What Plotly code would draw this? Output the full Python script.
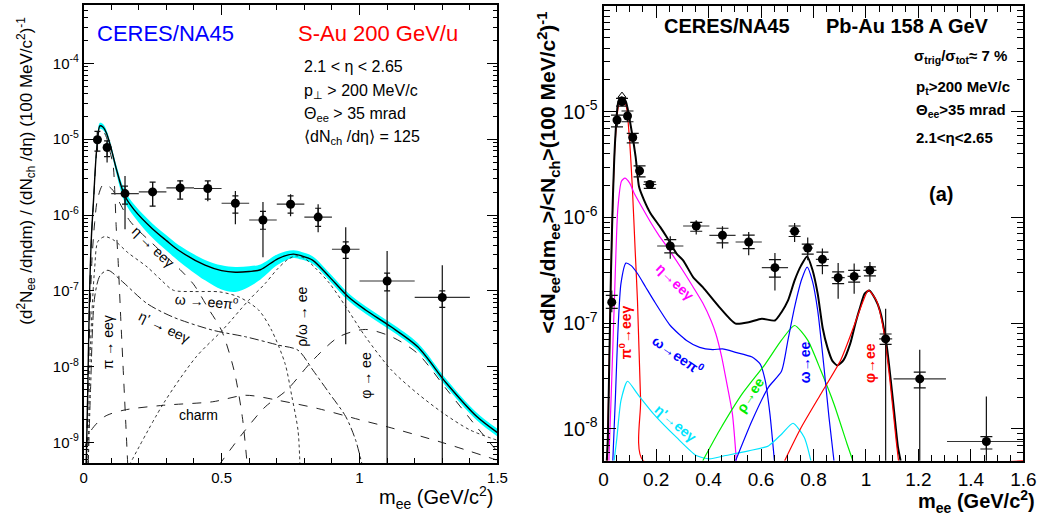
import numpy as np
import plotly.graph_objects as go

W, H = 1057, 515
FONT = "Liberation Sans, Arial, Helvetica, sans-serif"

# ---------------- Left panel: S-Au 200 GeV/u ----------------
L_m = [0.05, 0.085, 0.15, 0.25, 0.35, 0.45, 0.55, 0.65, 0.75, 0.85, 0.95, 1.10, 1.30]
L_dm = [0, 0, 0.05, 0.05, 0.05, 0.05, 0.05, 0.05, 0.05, 0.05, 0.05, 0.1, 0.1]
L_y = [9.85e-6, 7.77e-6, 1.92e-6, 2.02e-6, 2.28e-6, 2.24e-6, 1.43e-6, 8.6e-7, 1.39e-6, 9.4e-7, 3.54e-7, 1.35e-7, 8.2e-8]
L_stat_hi = [1.27e-5, 9.5e-6, 3.28e-6, 2.71e-6, 2.88e-6, 2.82e-6, 2.08e-6, 1.49e-6, 1.88e-6, 1.39e-6, 6.9e-7, 3.36e-7, 2.18e-7]
L_stat_lo = [6.95e-6, 4.93e-6, 6.5e-7, 1.31e-6, 1.67e-6, 1.52e-6, 7.56e-7, 2.78e-7, 9.64e-7, 5.93e-7, 1.97e-8, 1e-11, 1e-11]
L_sys_hi = [1.27e-5, 9.5e-6, 2.40e-6, 2.71e-6, 2.82e-6, 2.82e-6, 1.79e-6, 1.12e-6, 1.79e-6, 1.23e-6, 4.42e-7, 1.71e-7, 9.97e-8]
L_sys_lo = [6.95e-6, 5.9e-6, 1.39e-6, 1.31e-6, 1.62e-6, 1.62e-6, 1.06e-6, 6.5e-7, 1.06e-6, 7.11e-7, 2.69e-7, 9.97e-8, 6.07e-8]

L_tot_m = [0.008, 0.015, 0.021, 0.028, 0.036, 0.047, 0.059, 0.07, 0.083, 0.1, 0.119, 0.148, 0.184, 0.249, 0.30,
           0.344, 0.44, 0.50, 0.55, 0.60, 0.641, 0.705, 0.76, 0.79, 0.831, 0.891, 0.96, 1.022, 1.114, 1.211,
           1.316, 1.425, 1.5]
L_tot_y = [3e-10, 5e-9, 7.6e-8, 5e-7, 1.6e-6, 7.2e-6, 1.5e-5, 1.45e-5, 1.2e-5, 7.5e-6, 4.0e-6, 1.82e-6, 1.16e-6,
           6.6e-7, 4.6e-7, 3.43e-7, 2.18e-7, 1.85e-7, 1.76e-7, 1.8e-7, 1.9e-7, 2.67e-7, 3.05e-7, 2.9e-7, 2.53e-7,
           1.53e-7, 8.3e-8, 5.6e-8, 3.36e-8, 1.83e-8, 6.0e-9, 2.2e-9, 1.35e-9]
L_band_up = [0.04, 0.04, 0.04, 0.04, 0.04, 0.04, 0.04, 0.04, 0.04, 0.04, 0.05, 0.07, 0.07, 0.07, 0.07, 0.07, 0.07,
             0.07, 0.07, 0.07, 0.07, 0.06, 0.05, 0.05, 0.05, 0.05, 0.05, 0.05, 0.05, 0.05, 0.05, 0.05, 0.05]
L_band_dn = [0.04, 0.04, 0.04, 0.04, 0.04, 0.04, 0.04, 0.04, 0.04, 0.04, 0.06, 0.08, 0.09, 0.12, 0.13, 0.14, 0.2,
             0.25, 0.26, 0.2, 0.13, 0.08, 0.05, 0.05, 0.05, 0.05, 0.05, 0.05, 0.05, 0.05, 0.05, 0.05, 0.05]

L_pi_m = [0.008, 0.015, 0.021, 0.028, 0.036, 0.047, 0.059, 0.07, 0.083, 0.095, 0.107, 0.113, 0.118, 0.125, 0.135,
          0.145, 0.155, 0.165]
L_pi_y = [3e-10, 5e-9, 7e-8, 4.8e-7, 1.5e-6, 6.8e-6, 1.35e-5, 1.3e-5, 1.05e-5, 7e-6, 4.5e-6, 2.0e-6, 7e-7, 2.5e-7,
          4e-8, 7e-9, 1.2e-9, 2e-10]
L_eta_m = [0.01, 0.02, 0.03, 0.04, 0.05, 0.07, 0.09, 0.107, 0.135, 0.166, 0.2, 0.25, 0.30, 0.35, 0.40, 0.45, 0.50,
           0.545, 0.575, 0.593]
L_eta_y = [3e-10, 2e-8, 2.5e-7, 8e-7, 1.6e-6, 2.5e-6, 2.4e-6, 2.1e-6, 1.35e-6, 8.5e-7, 6.2e-7, 4.2e-7, 2.8e-7,
           1.9e-7, 1.2e-7, 6e-8, 3e-8, 9e-9, 2.2e-9, 5e-10]
L_omd_m = [0.015, 0.025, 0.04, 0.052, 0.077, 0.112, 0.16, 0.23, 0.28, 0.325, 0.4, 0.492, 0.563, 0.634, 0.681,
           0.73, 0.755, 0.777, 0.784]
L_omd_y = [3e-10, 2e-8, 2e-7, 4.5e-7, 5.2e-7, 4.6e-7, 3.2e-7, 2.07e-7, 1.4e-7, 1.02e-7, 9.8e-8, 9.7e-8, 8.3e-8,
           5.6e-8, 3.04e-8, 1.1e-8, 4e-9, 1.45e-9, 5e-10]
L_etap_m = [0.015, 0.025, 0.04, 0.06, 0.088, 0.135, 0.23, 0.325, 0.468, 0.587, 0.705, 0.777, 0.831, 0.89, 0.95,
            0.985, 1.01]
L_etap_y = [3e-10, 5e-9, 8.3e-8, 1.6e-7, 1.87e-7, 1.38e-7, 6.8e-8, 4.5e-8, 3.03e-8, 2.48e-8, 1.93e-8, 1.65e-8,
            9e-9, 4.5e-9, 2.2e-9, 1.1e-9, 5e-10]
L_rho_m = [0.165, 0.29, 0.408, 0.503, 0.598, 0.658, 0.70, 0.74, 0.77, 0.80, 0.84, 0.891, 0.95, 1.021, 1.116,
           1.211, 1.306, 1.401, 1.5]
L_rho_y = [5e-10, 3.3e-9, 1.35e-8, 3.03e-8, 7.5e-8, 1.25e-7, 1.9e-7, 2.6e-7, 2.9e-7, 2.7e-7, 2.0e-7, 1.26e-7,
           6.2e-8, 2.5e-8, 9e-9, 4.4e-9, 2.4e-9, 1.46e-9, 1.07e-9]
L_phi_m = [0.49, 0.575, 0.658, 0.736, 0.831, 0.926, 1.021, 1.116, 1.211, 1.318, 1.425, 1.496]
L_phi_y = [5e-10, 1.3e-9, 2.95e-9, 4.9e-9, 1.22e-8, 2.48e-8, 3.1e-8, 2.48e-8, 1.49e-8, 4.9e-9, 1.6e-9, 7.9e-10]
L_charm_m = [0.005, 0.028, 0.076, 0.147, 0.29, 0.468, 0.587, 0.705, 0.85, 1.0, 1.104, 1.3, 1.496]
L_charm_y = [8.8e-10, 1.46e-9, 2.2e-9, 2.68e-9, 3.1e-9, 3.45e-9, 4.2e-9, 3.6e-9, 2.8e-9, 2.0e-9, 1.6e-9, 1e-9, 5.9e-10]

# ---------------- Right panel: Pb-Au 158 A GeV ----------------
R_m = [0.031, 0.051, 0.070, 0.091, 0.111, 0.137, 0.176, 0.254, 0.353, 0.453, 0.553, 0.653, 0.728, 0.778, 0.834,
       0.894, 0.955, 1.015, 1.075, 1.205, 1.459]
R_dm = [0.006, 0.01, 0.01, 0.01, 0.01, 0.01, 0.025, 0.05, 0.05, 0.05, 0.05, 0.05, 0.02, 0.02, 0.025, 0.025, 0.025,
        0.025, 0.025, 0.1, 0.15]
R_y = [1.58e-7, 8.34e-6, 1.245e-5, 9.1e-6, 5.7e-6, 2.76e-6, 2.05e-6, 5.37e-7, 8.3e-7, 6.78e-7, 5.86e-7, 3.35e-7,
       7.4e-7, 5.14e-7, 4.02e-7, 2.69e-7, 2.77e-7, 3.16e-7, 7.1e-8, 2.97e-8, 7.6e-9]
R_stat_hi = [2.04e-7, 9.3e-6, 1.34e-5, 1.016e-5, 6.24e-6, 3.08e-6, 2.17e-6, 6.64e-7, 9.4e-7, 8.26e-7, 7.3e-7,
             4.62e-7, 8.87e-7, 6.45e-7, 5.07e-7, 3.71e-7, 3.66e-7, 3.79e-7, 1.37e-7, 5.6e-8, 2.02e-8]
R_stat_lo = [1.27e-7, 7.2e-6, 1.13e-5, 8.04e-6, 5.08e-6, 2.42e-6, 1.88e-6, 4.07e-7, 6.89e-7, 5.07e-7, 4.39e-7,
             2.04e-7, 5.86e-7, 3.93e-7, 2.9e-7, 1.7e-7, 1.9e-7, 2.45e-7, 1e-11, 1e-11, 1e-11]
R_sys_hi = [1.83e-7, 9.3e-6, 1.34e-5, 1.016e-5, 6.24e-6, 3.08e-6, 2.17e-6, 6.18e-7, 9.0e-7, 7.9e-7, 6.8e-7,
            3.99e-7, 8.3e-7, 5.6e-7, 4.7e-7, 3.05e-7, 3.16e-7, 3.4e-7, 7.9e-8, 3.44e-8, 8.43e-9]
R_sys_lo = [1.38e-7, 7.2e-6, 1.13e-5, 8.04e-6, 5.08e-6, 2.42e-6, 1.88e-6, 4.62e-7, 7.4e-7, 5.75e-7, 5.07e-7,
            2.73e-7, 6.6e-7, 4.5e-7, 3.5e-7, 2.37e-7, 2.44e-7, 2.8e-7, 6.3e-8, 2.44e-8, 6.45e-9]
R_open_m = [0.070]
R_open_y = [1.42e-5]

R_tot_m = [0.012, 0.016, 0.022, 0.028, 0.035, 0.044, 0.056, 0.069, 0.085, 0.104, 0.122, 0.135, 0.154, 0.179,
           0.216, 0.241, 0.278, 0.303, 0.341, 0.378, 0.441, 0.503, 0.553, 0.603, 0.653, 0.678, 0.703, 0.728,
           0.753, 0.776, 0.796, 0.816, 0.835, 0.853, 0.872, 0.891, 0.915, 0.94, 0.96, 0.978, 0.995, 1.013,
           1.035, 1.053, 1.078, 1.103, 1.122, 1.132]
R_tot_y = [5e-9, 8e-9, 5e-8, 3e-7, 1.45e-6, 5.4e-6, 1.24e-5, 1.37e-5, 1.24e-5, 7.2e-6, 3.74e-6, 1.95e-6, 1.46e-6,
           1.09e-6, 8.1e-7, 6.5e-7, 4.55e-7, 3.93e-7, 2.73e-7, 2.19e-7, 1.42e-7, 9.9e-8, 1.02e-7, 1.1e-7,
           1.06e-7, 1.27e-7, 1.64e-7, 2.54e-7, 3.52e-7, 4.28e-7, 3.2e-7, 1.9e-7, 9e-8, 5.9e-8, 4.4e-8, 3.98e-8,
           4.5e-8, 6.4e-8, 1.0e-7, 1.42e-7, 1.9e-7, 2.04e-7, 1.7e-7, 1.32e-7, 6.4e-8, 1.85e-8, 6.7e-9, 5e-9]
R_pi0_m = [0.014, 0.022, 0.028, 0.035, 0.044, 0.06, 0.075, 0.085, 0.097, 0.11, 0.12, 0.129, 0.141, 0.151, 1.6]
R_pi0_y = [5e-9, 5e-8, 3e-7, 1.4e-6, 5.2e-6, 1.2e-5, 1.2e-5, 1.15e-5, 6.2e-6, 1.8e-6, 5e-7, 1.64e-7, 1.85e-8,
           5e-9, 5e-9]
R_eta_m = [0.02, 0.03, 0.041, 0.054, 0.068, 0.081, 0.1, 0.116, 0.15, 0.179, 0.21, 0.241, 0.3, 0.341, 0.378, 0.41,
           0.428, 0.45, 0.466, 0.491, 0.506]
R_eta_y = [5e-9, 2.5e-8, 1.64e-7, 1.2e-6, 2.2e-6, 2.35e-6, 2.1e-6, 1.7e-6, 1.2e-6, 9.0e-7, 6.8e-7, 5.3e-7, 3.2e-7,
           2.2e-7, 1.55e-7, 1.05e-7, 7.9e-8, 4.8e-8, 3.0e-8, 1.38e-8, 5e-9]
R_omd_m = [0.035, 0.045, 0.054, 0.066, 0.085, 0.105, 0.129, 0.16, 0.191, 0.254, 0.316, 0.366, 0.416, 0.453, 0.503,
           0.566, 0.597, 0.616, 0.634, 0.651]
R_omd_y = [5e-9, 2e-8, 7.9e-8, 2.37e-7, 3.7e-7, 3.5e-7, 2.95e-7, 2.2e-7, 1.64e-7, 9.5e-8, 6.86e-8, 5.9e-8,
           5.63e-8, 5.7e-8, 5.3e-8, 4.78e-8, 4.1e-8, 2.86e-8, 1.38e-8, 5e-9]
R_etap_m = [0.04, 0.05, 0.066, 0.091, 0.129, 0.191, 0.278, 0.353, 0.403, 0.466, 0.553, 0.628, 0.68, 0.722, 0.765,
            0.79]
R_etap_y = [5e-9, 8e-9, 1.85e-8, 2.82e-8, 2.14e-8, 1.38e-8, 8.3e-9, 5.6e-9, 5.2e-9, 5.6e-9, 6.2e-9, 6.9e-9, 9e-9,
            1.13e-8, 8.3e-9, 5e-9]
R_rho_m = [0.378, 0.441, 0.528, 0.616, 0.678, 0.728, 0.778, 0.828, 0.878, 0.928, 0.95]
R_rho_y = [5e-9, 9.6e-9, 2.14e-8, 4.1e-8, 6.9e-8, 9.5e-8, 6.9e-8, 3.56e-8, 1.72e-8, 7.2e-9, 5e-9]
R_omg_m = [0.503, 0.566, 0.628, 0.678, 0.703, 0.728, 0.755, 0.776, 0.796, 0.816, 0.84, 0.859, 0.878]
R_omg_y = [5e-9, 1.2e-8, 2.47e-8, 3.5e-8, 7e-8, 1.42e-7, 2.6e-7, 3.39e-7, 2.5e-7, 1.32e-7, 3.83e-8, 1.29e-8, 5e-9]
R_phi_m = [0.69, 0.753, 0.828, 0.903, 0.953, 0.99, 1.009, 1.04, 1.065, 1.09, 1.115, 1.124]
R_phi_y = [5e-9, 1.03e-8, 2.14e-8, 4.43e-8, 9.2e-8, 1.64e-7, 2.04e-7, 1.64e-7, 9.2e-8, 3.08e-8, 7.8e-9, 5e-9]


def px(x):
    return x / W


def py(y):
    return 1 - y / H


fig = go.Figure()


def curve(xs, ys, color, width=1.0, dash="solid", xa="x", ya="y", smooth=0.8):
    fig.add_trace(go.Scatter(x=xs, y=ys, mode="lines", xaxis=xa, yaxis=ya,
                             line=dict(color=color, width=width, dash=dash, shape="spline", smoothing=smooth),
                             showlegend=False, hoverinfo="skip"))


# ---- left band ----
tot = np.array(L_tot_y)
band_lo = tot * 10 ** (-np.array(L_band_dn))
band_hi = tot * 10 ** (np.array(L_band_up))
fig.add_trace(go.Scatter(x=L_tot_m, y=band_lo, mode="lines", line=dict(width=0, color="#00ffff", shape="spline"),
                         showlegend=False, hoverinfo="skip"))
fig.add_trace(go.Scatter(x=L_tot_m, y=band_hi, mode="lines", line=dict(width=0, color="#00ffff", shape="spline"),
                         fill="tonexty", fillcolor="#00ffff", showlegend=False, hoverinfo="skip"))

curve(L_pi_m, L_pi_y, "#222222", 1.0, "dash")
curve(L_eta_m, L_eta_y, "#222222", 1.0, "dash")
curve(L_omd_m, L_omd_y, "#333333", 1.0, "dot")
curve(L_etap_m, L_etap_y, "#222222", 1.0, "dashdot")
curve(L_rho_m, L_rho_y, "#333333", 1.0, "dot")
curve(L_phi_m, L_phi_y, "#222222", 1.0, "dash")
curve(L_charm_m, L_charm_y, "#222222", 1.0, "dash")
curve(L_tot_m, L_tot_y, "black", 1.4, "solid")


def points(m, dm, y, shi, slo, yhi, ylo, xa, ya, cap):
    y = np.array(y)
    fig.add_trace(go.Scatter(x=m, y=y, mode="markers", xaxis=xa, yaxis=ya,
                             marker=dict(size=1, color="rgba(0,0,0,0)"),
                             error_y=dict(type="data", symmetric=False, array=np.array(yhi) - y,
                                          arrayminus=y - np.array(ylo), color="#111111", thickness=1.2, width=cap),
                             showlegend=False, hoverinfo="skip"))
    fig.add_trace(go.Scatter(x=m, y=y, mode="markers", xaxis=xa, yaxis=ya,
                             marker=dict(size=9, color="black"),
                             error_x=dict(type="data", array=dm, color="#333333", thickness=1.2, width=0),
                             error_y=dict(type="data", symmetric=False, array=np.array(shi) - y,
                                          arrayminus=y - np.array(slo), color="#111111", thickness=1.2, width=0),
                             showlegend=False, hoverinfo="skip"))


points(L_m, L_dm, L_y, L_stat_hi, L_stat_lo, L_sys_hi, L_sys_lo, "x", "y", 3)

# ---- right panel curves ----
curve(R_pi0_m, R_pi0_y, "#ff0000", 1.2, xa="x2", ya="y2", smooth=0.6)
curve(R_eta_m, R_eta_y, "#ff00ff", 1.2, xa="x2", ya="y2", smooth=0.6)
curve(R_omd_m, R_omd_y, "#0000ff", 1.2, xa="x2", ya="y2", smooth=0.6)
curve(R_etap_m, R_etap_y, "#00e5ff", 1.2, xa="x2", ya="y2", smooth=0.6)
curve(R_rho_m, R_rho_y, "#00ee00", 1.2, xa="x2", ya="y2", smooth=0.6)
curve(R_omg_m, R_omg_y, "#0000ff", 1.2, xa="x2", ya="y2", smooth=0.6)
curve(R_tot_m, R_tot_y, "black", 2.0, xa="x2", ya="y2", smooth=0.6)
curve(R_phi_m, R_phi_y, "#ff0000", 1.2, xa="x2", ya="y2", smooth=0.6)

points(R_m, R_dm, R_y, R_stat_hi, R_stat_lo, R_sys_hi, R_sys_lo, "x2", "y2", 6)
fig.add_trace(go.Scatter(x=R_open_m, y=R_open_y, mode="markers", xaxis="x2", yaxis="y2",
                         marker=dict(size=7, symbol="triangle-up-open", color="black", line=dict(width=1)),
                         showlegend=False, hoverinfo="skip"))

# ---- axes ----
def log_ticks(lo, hi):
    return [10.0 ** e for e in range(lo, hi + 1)], ["10<sup>%d</sup>" % e for e in range(lo, hi + 1)]


def minor_log(lo, hi):
    return [k * 10.0 ** e for e in range(lo, hi) for k in range(2, 10)]


ltv, ltt = log_ticks(-9, -4)
rtv, rtt = log_ticks(-8, -4)

common = dict(showgrid=False, zeroline=False, showline=True, linecolor="black", ticks="inside",
              tickcolor="black", mirror="allticks")

fig.update_layout(
    width=W, height=H, margin=dict(l=0, r=0, t=0, b=0), paper_bgcolor="white", plot_bgcolor="white",
    font=dict(family=FONT, color="black"),
    xaxis=dict(domain=[px(80), px(501)], range=[0, 1.5], anchor="y", linewidth=1.5, ticklen=10,
               tickvals=[0, 0.5, 1, 1.5], ticktext=["0", "0.5", "1", "1.5"], tickfont=dict(size=15),
               minor=dict(tickmode="array", tickvals=[i / 10 for i in range(1, 15)], ticks="inside", ticklen=5,
                          tickcolor="black"), **common),
    yaxis=dict(domain=[py(463), py(5)], type="log", range=[-9.27, -3.23], anchor="x", linewidth=1.5, ticklen=11,
               tickvals=ltv, ticktext=ltt, tickfont=dict(size=15),
               minor=dict(tickmode="array", tickvals=minor_log(-10, -3), ticks="inside", ticklen=5,
                          tickcolor="black"), **common),
    xaxis2=dict(domain=[px(609), px(1036)], range=[0, 1.6], anchor="y2", linewidth=2, ticklen=12,
                tickvals=[0, 0.2, 0.4, 0.6, 0.8, 1, 1.2, 1.4, 1.6],
                ticktext=["0", "0.2", "0.4", "0.6", "0.8", "1", "1.2", "1.4", "1.6"], tickfont=dict(size=19),
                minor=dict(tickmode="array", tickvals=[i * 0.05 for i in range(1, 32)], ticks="inside", ticklen=6,
                           tickcolor="black"), **common),
    yaxis2=dict(domain=[py(460.7), py(6)], type="log", range=[np.log10(5e-9), -4], anchor="x2", linewidth=2,
                ticklen=12, tickvals=rtv, ticktext=rtt, tickfont=dict(size=20),
                minor=dict(tickmode="array", tickvals=minor_log(-9, -4), ticks="inside", ticklen=6,
                           tickcolor="black"), **common),
)

ann = []


def text(t, x, y, size, color="black", xanchor="center", yanchor="middle", angle=0, bold=False):
    if bold:
        t = "<b>" + t + "</b>"
    ann.append(dict(text=t, x=px(x), y=py(y), xref="paper", yref="paper", showarrow=False,
                    xanchor=xanchor, yanchor=yanchor, textangle=angle,
                    font=dict(size=size, color=color, family=FONT)))


# left texts
text("CERES/NA45", 92, 34, 22, "#0000ff", xanchor="left")
text("S-Au 200 GeV/u", 463, 34, 22, "#ff0000", xanchor="right")
text("2.1 &lt; η &lt; 2.65", 302, 66, 16, xanchor="left")
text("p<sub>⊥</sub> &gt; 200 MeV/c", 302, 91, 16, xanchor="left")
text("Θ<sub>ee</sub> &gt; 35 mrad", 302, 114, 16, xanchor="left")
text("⟨dN<sub>ch</sub> /dη⟩ = 125", 302, 137, 16, xanchor="left")
text("η → eeγ", 151, 247, 14, angle=44)
text("ω → eeπ<sup>o</sup>", 206, 301, 14, angle=5)
text("η' → eeγ", 162, 327, 14, angle=26)
text("π → eeγ", 105, 342, 14, angle=-90)
text("ρ/ω → ee", 302, 317, 14, angle=-90)
text("φ → ee", 367, 375, 14, angle=-90)
text("charm", 197, 415, 14)
text("(d<sup>2</sup>N<sub>ee</sub> /dηdm) / (dN<sub>ch</sub> /dη) (100 MeV/c<sup>2</sup>)<sup>-1</sup>",
     21, 15, 17, yanchor="top", angle=-90)
text("m<sub>ee</sub> (GeV/c<sup>2</sup>)", 499, 497, 20, xanchor="right")

# right texts
text("CERES/NA45", 668, 26, 20, xanchor="left", bold=True)
text("Pb-Au 158 A GeV", 1003, 26, 20, xanchor="right", bold=True)
text("σ<sub>trig</sub>/σ<sub>tot</sub>≈ 7 %", 923, 56, 15, xanchor="left", bold=True)
text("p<sub>t</sub>&gt;200 MeV/c", 925, 87, 15, xanchor="left", bold=True)
text("Θ<sub>ee</sub>&gt;35 mrad", 925, 110, 15, xanchor="left", bold=True)
text("2.1&lt;η&lt;2.65", 925, 137, 15, xanchor="left", bold=True)
text("(a)", 952, 194, 20, bold=True)
text("π<sup>0</sup>→eeγ", 631, 332, 14, "#ff0000", angle=-90, bold=True)
text("η→eeγ", 682, 282, 14, "#ff00ff", angle=44, bold=True)
text("ω→eeπ<sup>0</sup>", 685, 355, 14, "#0000ff", angle=35, bold=True)
text("η'→eeγ", 682, 423, 14, "#00e5ff", angle=40, bold=True)
text("ρ→ee", 758, 395, 14, "#00ee00", angle=-57, bold=True)
text("ω→ee", 814, 362, 14, "#0000ff", angle=-90, bold=True)
text("φ→ee", 880, 363, 14, "#ff0000", angle=-90, bold=True)
text("&lt;dN<sub>ee</sub>/dm<sub>ee</sub>&gt;/&lt;N<sub>ch</sub>&gt;(100 MeV/c<sup>2</sup>)<sup>-1</sup>",
     552, 10, 21, yanchor="top", angle=-90, bold=True)
text("m<sub>ee</sub> (GeV/c<sup>2</sup>)", 1050, 501, 20, xanchor="right", bold=True)

fig.update_layout(annotations=ann)
fig.write_html("out.html", config={"displayModeBar": False},
               post_script="document.body.style.margin='0px';document.body.style.overflow='hidden';")
